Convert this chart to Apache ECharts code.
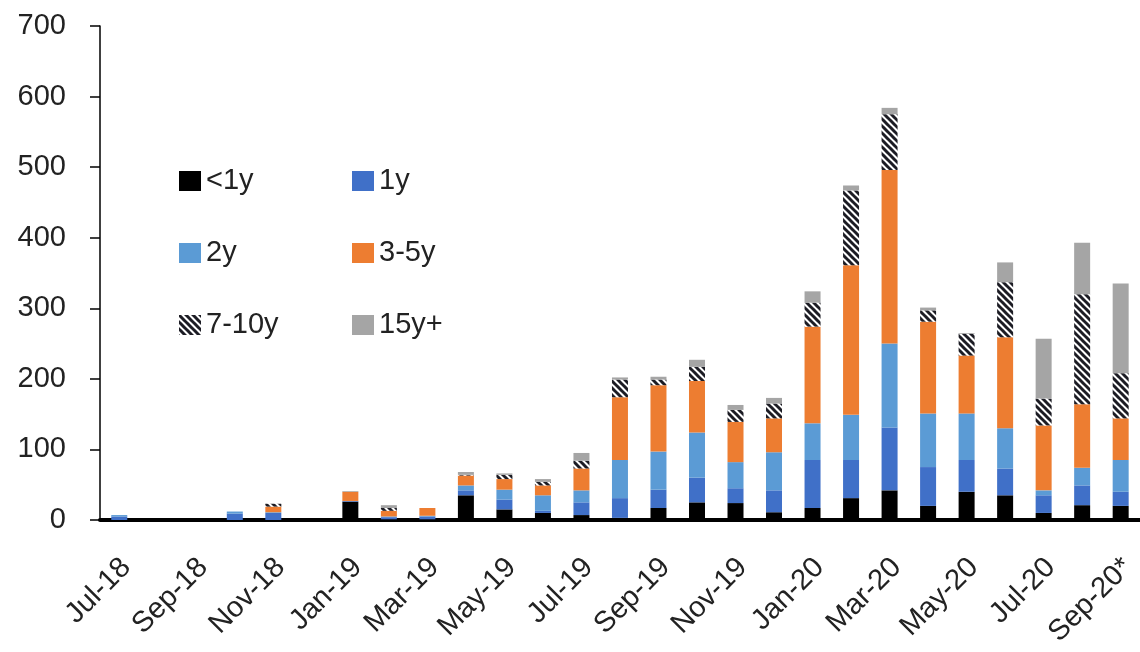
<!DOCTYPE html>
<html>
<head>
<meta charset="utf-8">
<script src="https://cdn.jsdelivr.net/npm/echarts@6/dist/echarts.min.js"></script>
<style>
  html, body { margin: 0; padding: 0; background: #fff; }
  #chart { width: 1140px; height: 652px; }
</style>
</head>
<body>
<div id="chart"></div>
<script>
// Monthly issuance by tenor bucket, Jul-18 to Sep-20
const months = [
  'Jul-18', 'Aug-18', 'Sep-18', 'Oct-18', 'Nov-18', 'Dec-18',
  'Jan-19', 'Feb-19', 'Mar-19', 'Apr-19', 'May-19', 'Jun-19',
  'Jul-19', 'Aug-19', 'Sep-19', 'Oct-19', 'Nov-19', 'Dec-19',
  'Jan-20', 'Feb-20', 'Mar-20', 'Apr-20', 'May-20', 'Jun-20',
  'Jul-20', 'Aug-20', 'Sep-20*'
];

const lessThan1y = [0, 0, 0, 0, 0, 0, 26, 1, 1, 35, 15, 10, 7, 3, 17, 25, 24, 11, 17, 31, 42, 20, 40, 35, 10, 21, 20];
const oneYear    = [5, 0, 0, 9, 10, 0, 1, 3, 4, 7, 14, 3, 18, 28, 26, 35, 21, 31, 68, 54, 89, 55, 45, 38, 25, 28, 20];
const twoYear    = [2, 0, 0, 3, 1, 0, 0, 1, 1, 7, 14, 22, 17, 54, 54, 64, 37, 54, 52, 64, 119, 76, 66, 57, 7, 25, 45];
const threeToFive = [0, 0, 0, 0, 8, 0, 13, 8, 11, 14, 15, 14, 31, 89, 94, 73, 57, 48, 137, 212, 246, 130, 82, 129, 92, 90, 59];
const sevenToTen = [0, 0, 0, 0, 4, 0, 0, 4, 0, 1, 6, 5, 11, 25, 8, 20, 17, 21, 34, 106, 79, 16, 31, 78, 38, 156, 64];
const fifteenPlus = [0, 0, 0, 0, 0, 0, 1, 4, 0, 4, 2, 4, 11, 3, 4, 10, 7, 8, 16, 7, 9, 4, 1, 28, 85, 73, 127];

const yTicks = { min: 0, max: 700, step: 100 };

// Diagonal black/white stripes for the 7-10y bucket
function stripePattern() {
  const p = 7;
  const c = document.createElement('canvas');
  c.width = p; c.height = p;
  const g = c.getContext('2d');
  g.fillStyle = '#ffffff';
  g.fillRect(0, 0, p, p);
  g.strokeStyle = '#1c1c24';
  g.lineWidth = 3;
  for (let k = -1; k <= 1; k++) {
    g.beginPath();
    g.moveTo(k * p - 1, -1);
    g.lineTo(k * p + p + 1, p + 1);
    g.stroke();
  }
  return c;
}

const font = 'Liberation Sans, Arial, sans-serif';
const ink = '#222222';

function bar(name, data, color) {
  return {
    name: name,
    type: 'bar',
    stack: 'total',
    barWidth: 16,
    data: data,
    itemStyle: { color: color },
    emphasis: { disabled: true }
  };
}

const series = [
  bar('<1y', lessThan1y, '#000000'),
  bar('1y', oneYear, '#4070c8'),
  bar('2y', twoYear, '#5b9bd5'),
  bar('3-5y', threeToFive, '#ed7d31'),
  bar('7-10y', sevenToTen, { image: stripePattern(), repeat: 'repeat' }),
  bar('15y+', fifteenPlus, '#a5a5a5')
];

const legendBase = {
  orient: 'vertical',
  top: 161,
  itemWidth: 22,
  itemHeight: 20,
  itemGap: 42,
  icon: 'rect',
  selectedMode: false,
  textStyle: { fontFamily: font, fontSize: 29, lineHeight: 30, color: ink }
};

const chart = echarts.init(document.getElementById('chart'), null, { renderer: 'canvas' });
chart.setOption({
  animation: false,
  backgroundColor: '#ffffff',
  grid: { left: 100, top: 26, width: 1046, height: 494 },
  legend: [
    Object.assign({}, legendBase, { left: 174, data: ['<1y', '2y', '7-10y'] }),
    Object.assign({}, legendBase, { left: 347, data: ['1y', '3-5y', '15y+'] })
  ],
  xAxis: {
    type: 'category',
    data: months,
    offset: 2,
    axisLine: { lineStyle: { color: '#000', width: 4 } },
    axisTick: { show: false },
    axisLabel: {
      interval: 1,
      rotate: 45,
      margin: 48,
      padding: [0, -10, 0, 0],
      fontFamily: font,
      fontSize: 29,
      color: ink
    }
  },
  yAxis: {
    type: 'value',
    min: yTicks.min,
    max: yTicks.max,
    interval: yTicks.step,
    splitLine: { show: false },
    axisLine: { show: true, lineStyle: { color: '#000', width: 1.5 } },
    axisTick: { show: true, length: 10, lineStyle: { color: '#000', width: 1.5 } },
    axisLabel: { margin: 34, fontFamily: font, fontSize: 29, color: ink }
  },
  series: series
});
</script>
</body>
</html>
